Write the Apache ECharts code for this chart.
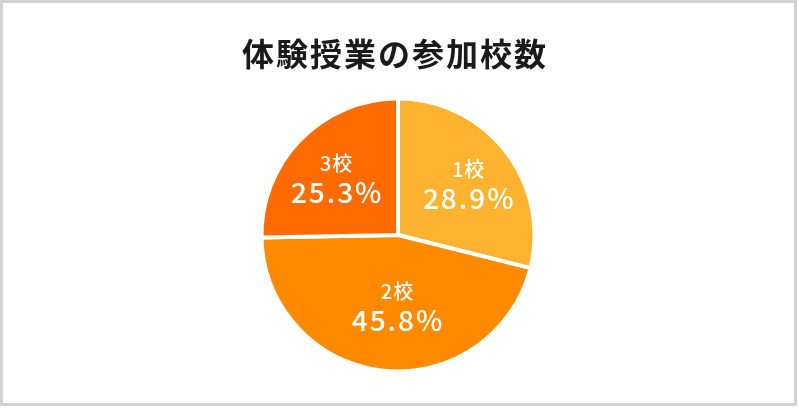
<!DOCTYPE html>
<html><head><meta charset="utf-8">
<script src="https://cdn.jsdelivr.net/npm/echarts@6/dist/echarts.min.js"></script>
<style>
html,body{margin:0;padding:0;background:#fff;}
#frame{position:absolute;left:0;top:0;width:791px;height:400px;border:3px solid #d2d2d2;background:#fff;}
#chart{position:absolute;left:0;top:0;width:799px;height:408px;}
</style></head>
<body>
<div id="frame"></div>
<div id="chart"></div>
<script>
const titleText = '体験授業の参加校数';
const categories = ['1校', '2校', '3校'];
const percents = [28.9, 45.8, 25.3];
const colors = ['#FDB32F', '#FF8A00', '#FF6B00'];
const labelOffsets = [[14, -6], [7, 1], [-11, -6]];

const font = '"Noto Sans CJK JP", "Noto Sans", sans-serif';
const spaced = (str, key) => Array.from(str).map(ch => '{' + key + '|' + ch + '}').join('');

const chart = echarts.init(document.getElementById('chart'), null, {renderer: 'canvas'});
chart.setOption({
  backgroundColor: 'transparent',
  title: {
    text: spaced(titleText, 't'), left: 236, top: 33,
    textStyle: {
      fontFamily: font, fontSize: 32, fontWeight: 'bold', color: '#1a1a1a',
      rich: {t: {fontFamily: font, fontSize: 32, fontWeight: 'bold', color: '#1a1a1a', width: 34, align: 'center'}}
    }
  },
  series: [{
    type: 'pie',
    center: [398, 235],
    radius: 136.5,
    startAngle: 90,
    clockwise: true,
    animation: false,
    silent: true,
    itemStyle: {borderColor: '#fff', borderWidth: 4},
    label: {
      show: true, position: 'inside',
      formatter: p => spaced(p.name, 'a') + '\n' + spaced(p.value.toFixed(1) + '%', 'b'),
      rich: {
        a: {fontFamily: font, fontSize: 20, fontWeight: 500, color: '#fff', lineHeight: 27, padding: [0, 0.5]},
        b: {fontFamily: font, fontSize: 28, fontWeight: 500, color: '#fff', lineHeight: 31, padding: [0, 1]}
      }
    },
    labelLine: {show: false},
    data: categories.map((c, i) => ({
      name: c, value: percents[i],
      itemStyle: {color: colors[i]},
      label: {offset: labelOffsets[i]}
    }))
  }]
});
</script>
</body></html>
